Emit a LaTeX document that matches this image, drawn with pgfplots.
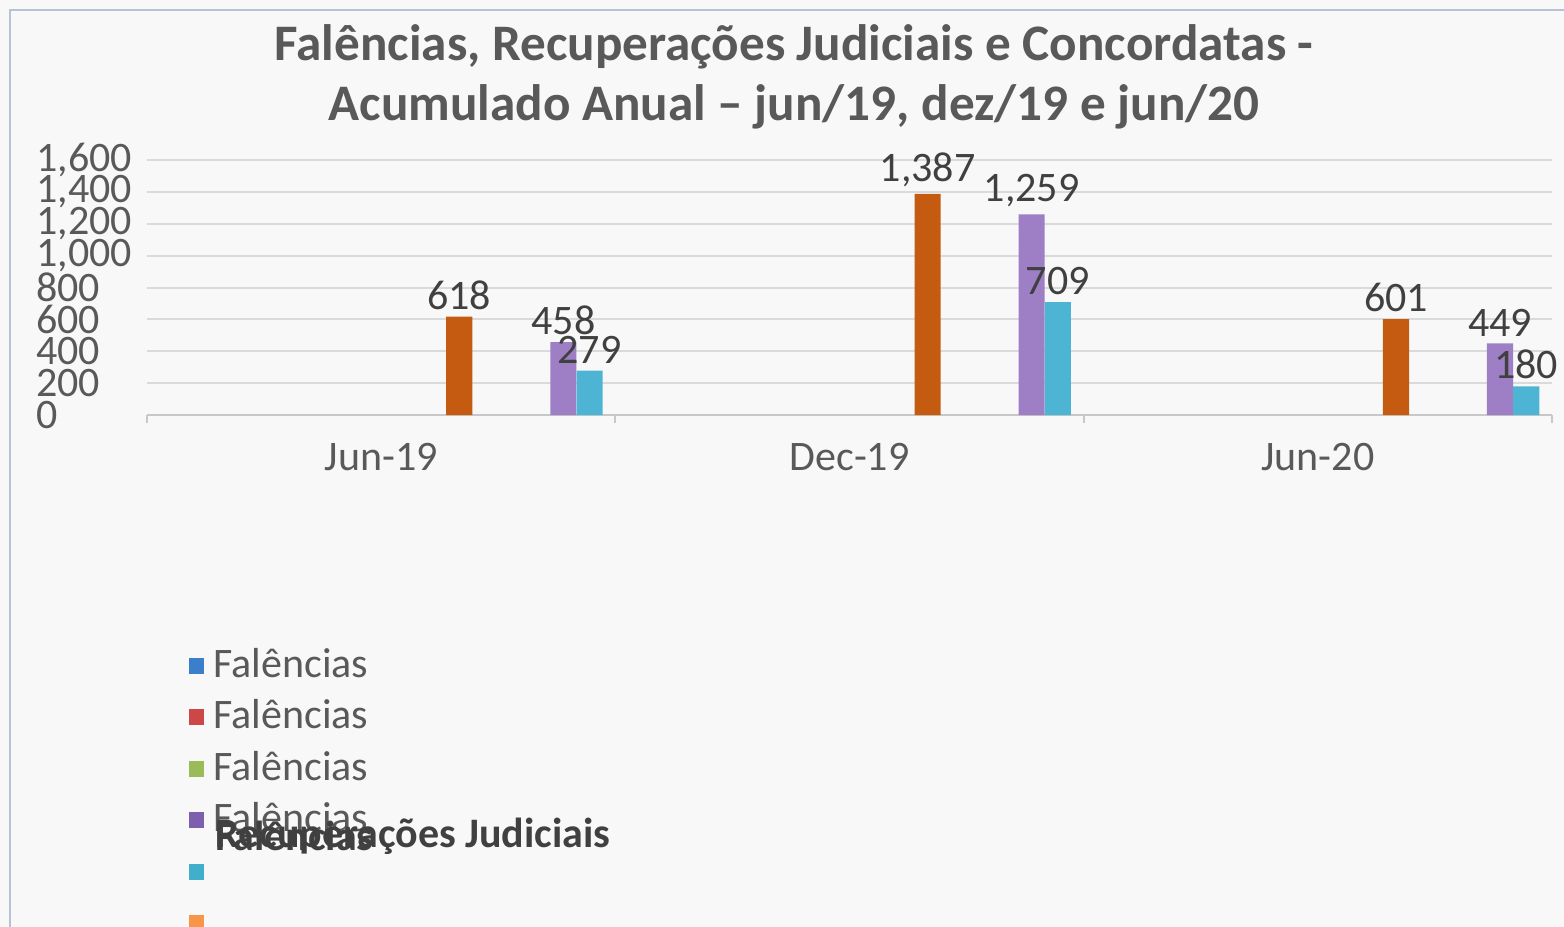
\documentclass[border=0pt]{standalone}
\usepackage{pgfplots}
\pgfplotsset{compat=1.18}
\usepackage{fontspec}
\setmainfont{Carlito}
\definecolor{bgcol}{HTML}{F8F8F8}
\definecolor{framecol}{HTML}{B7C3D3}
\definecolor{titlecol}{HTML}{595959}
\definecolor{txtcol}{HTML}{404040}
\definecolor{gridcol}{HTML}{DADADA}
\definecolor{axcol}{HTML}{C8C8C8}
\definecolor{cbrown}{HTML}{C55A11}
\definecolor{cpurple}{HTML}{9E7FC6}
\definecolor{ccyan}{HTML}{4DB5D3}
\definecolor{lblue}{HTML}{3B7FCB}
\definecolor{lred}{HTML}{CC4748}
\definecolor{lgreen}{HTML}{9BBB59}
\definecolor{lpurple}{HTML}{7E5FAE}
\definecolor{lcyan}{HTML}{41AECB}
\definecolor{lorange}{HTML}{F79646}
\begin{document}
\begin{tikzpicture}
\fill[bgcol] (0bp,0bp) rectangle (782bp,463.5bp);
\path[use as bounding box] (0bp,0bp) rectangle (782bp,463.5bp);
\draw[framecol, line width=1bp] (5bp,0bp) -- (5bp,458.5bp) -- (782bp,458.5bp);
\node[text=titlecol, font=\bfseries\fontsize{25.6bp}{25.6bp}\selectfont] at (397bp,440bp) {Falências, Recuperações Judiciais e Concordatas -};
\node[text=titlecol, font=\bfseries\fontsize{25.6bp}{25.6bp}\selectfont] at (397bp,410bp) {Acumulado Anual – jun/19, dez/19 e jun/20};
\begin{axis}[
  at={(73.5bp,256bp)}, anchor=south west,
  width=702.5bp, height=127.5bp, scale only axis,
  xmin=-0.5, xmax=2.5, ymin=0, ymax=1600,
  clip=false,
  axis x line*=bottom, axis y line*=left,
  y axis line style={draw=none},
  x axis line style={draw=axcol, line width=1bp},
  xtick={0,1,2}, xticklabels={Jun-19,Dec-19,Jun-20},
  minor xtick={-0.5,0.5,1.5,2.5},
  major tick length=0pt, minor tick length=4bp, tick align=outside,
  minor tick style={draw=axcol, line width=1bp},
  ytick={0,200,...,1600},
  ymajorgrids, grid style={draw=gridcol, line width=1bp},
  /pgf/number format/assume math mode=true,
  /pgf/number format/1000 sep={,},
  every tick label/.append style={font=\fontsize{21bp}{21bp}\selectfont, text=titlecol},
  yticklabel style={anchor=west, inner sep=0pt, xshift=-55.5bp},
  xticklabel style={yshift=-10.5bp},
  ybar, bar width=0.0557,
  nodes near coords,
  every node near coord/.append style={font=\fontsize{21bp}{21bp}\selectfont, text=txtcol},
  legend style={draw=none, fill=none, at={(0.0256,-0.878)}, anchor=north west,
    font=\fontsize{21bp}{21bp}\selectfont, text=titlecol,
    nodes={inner sep=0pt, text height=17bp, text depth=8.7bp},
    row sep=0pt, /tikz/every odd column/.append style={column sep=4.5bp}},
  legend cell align=left,
  legend image code/.code={\fill[#1, draw=none] (0bp,-2.5bp) rectangle (7.5bp,5.5bp);},
]
\addplot[fill=cbrown, draw=none, bar shift=0.1668, forget plot] coordinates {(0,618) (1,1387) (2,601)};
\addplot[fill=cpurple, draw=none, bar shift=0.389, forget plot] coordinates {(0,458) (1,1259) (2,449)};
\addplot[fill=ccyan, draw=none, bar shift=0.445, forget plot] coordinates {(0,279) (1,709) (2,180)};
\addlegendimage{fill=lblue, draw=none}\addlegendentry{Falências}
\addlegendimage{fill=lred, draw=none}\addlegendentry{Falências}
\addlegendimage{fill=lgreen, draw=none}\addlegendentry{Falências}
\addlegendimage{fill=lpurple, draw=none}\addlegendentry{Falências}
\addlegendimage{fill=lcyan, draw=none}\addlegendentry{}
\addlegendimage{fill=lorange, draw=none}\addlegendentry{}
\end{axis}
\node[anchor=west, inner sep=0pt, text=txtcol, font=\bfseries\fontsize{21bp}{21bp}\selectfont] at (107.5bp,45.5bp) {Recuperações Judiciais};
\node[anchor=west, inner sep=0pt, text=txtcol, font=\bfseries\fontsize{21bp}{21bp}\selectfont] at (107.5bp,45.5bp) {Falências};
\end{tikzpicture}
\end{document}
